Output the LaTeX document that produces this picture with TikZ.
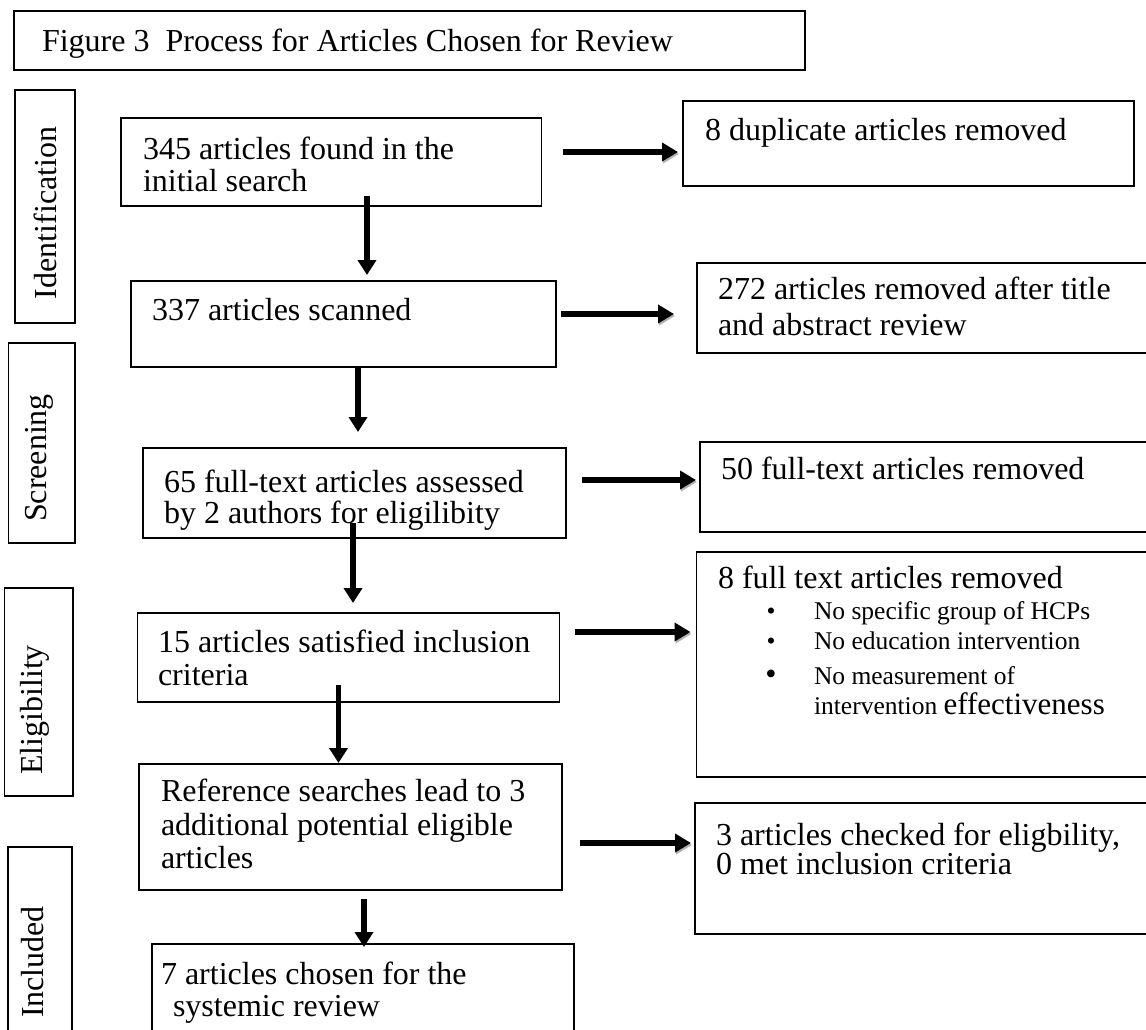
\documentclass[tikz,border=0pt]{standalone}
\usepackage{fontspec}
\setmainfont{Liberation Serif}
\usetikzlibrary{arrows.meta}
\newcommand{\mkbox}[5]{\node[bx,minimum width={(#4-#2)*1pt},minimum height={(#5-#3)*1pt}] (#1) at ({(#2+#4)/2},{(#3+#5)/2}) {};}
\begin{document}
\begin{tikzpicture}[x=1pt,y=-1pt,
  bx/.style={draw=black,line width=1.5pt,inner sep=0pt,outer sep=0pt},
  txt/.style={inner sep=0pt,outer sep=0pt,anchor=base west,font=\fontsize{32}{33}\selectfont},
  smalltxt/.style={inner sep=0pt,outer sep=0pt,anchor=base west,font=\fontsize{25.5}{30}\selectfont},
  bul/.style={inner sep=0pt,outer sep=0pt,anchor=base,font=\fontsize{25.5}{30}\selectfont},
  side/.style={inner sep=0pt,outer sep=0pt,rotate=90,font=\fontsize{32}{33}\selectfont},
  varr/.style={line width=5.5pt,-{Triangle[length=15pt,width=18pt]}},
  harr/.style={line width=6pt,-{Triangle[length=16pt,width=18pt]},
    preaction={draw=black!30,transform canvas={shift={(1pt,-2pt)}}}},
]
\clip (0,0) rectangle (1146,1029);
\fill[white] (0,0) rectangle (1146,1029);

% title
\mkbox{title}{13.8}{11}{805}{70}
\node[txt] (ttl) at (42,51) {Figure 3\ \ Process for Articles Chosen for Review};

% stage labels
\mkbox{ident}{15}{90}{75}{323}
\node[side] (identt) at (45,213) {Identification};
\mkbox{screen}{8.5}{343}{75}{543}
\node[side] (screent) at (39.5,458) {Screening};
\mkbox{elig}{4.5}{588}{73}{796}
\node[side] (eligt) at (35,710) {Eligibility};
\mkbox{incl}{8}{847}{72}{1045}
\node[side] (inclt) at (33,962) {Included};

% main column
\mkbox{b1}{121}{118}{541.5}{206}
\node[txt] (b1a) at (143,159) {345 articles found in the};
\node[txt] (b1b) at (143,191) {initial search};

\mkbox{b2}{131}{281}{556}{367}
\node[txt] (b2a) at (152,320) {337 articles scanned};

\mkbox{b3}{143}{448}{566}{538}
\node[txt] (b3a) at (164,492) {65 full-text articles assessed};
\node[txt] (b3b) at (164,523) {by 2 authors for eligilibity};

\mkbox{b4}{137.5}{613}{559.5}{702}
\node[txt] (b4a) at (158,652) {15 articles satisfied inclusion};
\node[txt] (b4b) at (158,685) {criteria};

\mkbox{b5}{139}{764}{562}{890}
\node[txt] (b5a) at (161,801) {Reference searches lead to 3};
\node[txt] (b5b) at (161,835) {additional potential eligible};
\node[txt] (b5c) at (161,868) {articles};

\mkbox{b6}{152}{944}{574}{1045}
\node[txt] (b6a) at (161,984) {7 articles chosen for the};
\node[txt] (b6b) at (173,1016) {systemic review};

% right column
\mkbox{dup}{683}{101}{1134}{186}
\node[txt] (dupa) at (705,140) {8 duplicate articles removed};

\mkbox{rem}{697}{263}{1152}{353}
\node[txt] (rema) at (718,299) {272 articles removed after title};
\node[txt] (remb) at (718,335) {and abstract review};

\mkbox{fifty}{700}{442}{1152}{532}
\node[txt] (fiftya) at (721,479) {50 full-text articles removed};

\mkbox{eight}{696.5}{552}{1152}{777}
\node[txt] (eighta) at (718,588) {8 full text articles removed};
\node[bul] (bu1) at (771,619) {\textbullet};
\node[smalltxt] (e1) at (814,619) {No specific group of HCPs};
\node[bul] (bu2) at (771,649) {\textbullet};
\node[smalltxt] (e2) at (814,649) {No education intervention};
\node[bul,font=\fontsize{32}{33}\selectfont] (bu3) at (771,684) {\textbullet};
\node[smalltxt] (e3) at (814,684) {No measurement of};
\node[smalltxt] (e4) at (814,714) {intervention {\fontsize{31}{33}\selectfont effectiveness}};

\mkbox{three}{695}{803}{1152}{934}
\node[txt] (threea) at (716,845) {3 articles checked for eligbility,};
\node[txt] (threeb) at (716,874) {0 met inclusion criteria};

% arrow start points
\coordinate (r1s) at (563,152);
\coordinate (r2s) at (561,314);
\coordinate (r3s) at (582,480);
\coordinate (r4s) at (575,632);
\coordinate (r5s) at (580,843);
\coordinate (d1s) at (367,196);
\coordinate (d2s) at (358,367);
\coordinate (d3s) at (353,523);
\coordinate (d4s) at (338.5,685);
\coordinate (d5s) at (364,899);

% horizontal arrows
\draw[harr] (r1s) -- ([xshift=-5pt]r1s -| dup.west);
\draw[harr] (r2s) -- ([xshift=-23pt]r2s -| rem.west);
\draw[harr] (r3s) -- ([xshift=-4pt]r3s -| fifty.west);
\draw[harr] (r4s) -- ([xshift=-6pt]r4s -| eight.west);
\draw[harr] (r5s) -- ([xshift=-4pt]r5s -| three.west);

% vertical arrows
\draw[varr] (d1s) -- ([yshift=6pt]d1s |- b2.north);
\draw[varr] (d2s) -- ([yshift=16pt]d2s |- b3.north);
\draw[varr] (d3s) -- ([yshift=10pt]d3s |- b4.north);
\draw[varr] (d4s) -- ([yshift=1pt]d4s |- b5.north);
\draw[varr] (d5s) -- ([yshift=-3pt]d5s |- b6.north);
\end{tikzpicture}
\end{document}
